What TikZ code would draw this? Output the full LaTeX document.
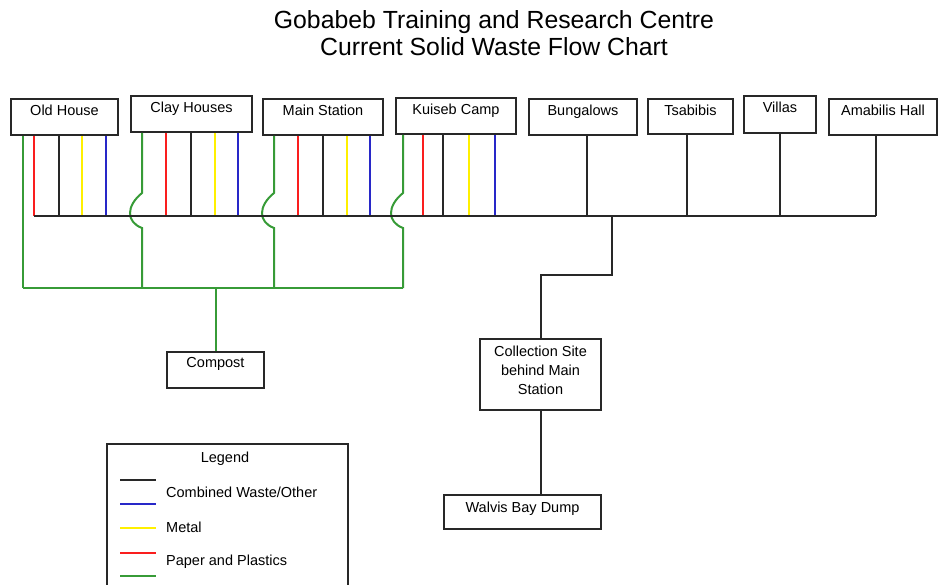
\documentclass[tikz,border=0pt]{standalone}
\usepackage{fontspec}
\setmainfont{Liberation Sans}
\definecolor{cgreen}{RGB}{55,155,55}
\definecolor{cred}{RGB}{250,30,30}
\definecolor{cyellow}{RGB}{255,240,0}
\definecolor{cblue}{RGB}{40,40,200}
\definecolor{cblack}{RGB}{40,40,40}
\begin{document}
\begin{tikzpicture}[x=1pt,y=-1pt,
  box/.style={draw=cblack, line width=2pt, inner sep=0pt, text height=16.5pt, text depth=19.5pt,
    anchor=north, font=\fontsize{14.5}{19}\selectfont},
  mbox/.style={draw=cblack, line width=2pt, inner sep=0pt, align=center,
    anchor=north, font=\fontsize{14.5}{19}\selectfont},
  wire/.style={line width=2pt},
  lbl/.style={inner sep=0pt, anchor=base west, font=\fontsize{14.5}{19}\selectfont},
  ttl/.style={inner sep=0pt, anchor=base, font=\fontsize{24.8}{27}\selectfont}]
\useasboundingbox (0,0) rectangle (939,585);

% title
\node[ttl] (t1) at (494,29) {Gobabeb Training and Research Centre};
\node[ttl] (t2) at (494,56) {Current Solid Waste Flow Chart};

% source boxes
\node[box, minimum width=107pt] (oh) at (64.5,98) {Old House};
\node[box, minimum width=121pt] (ch) at (191.5,95) {Clay Houses};
\node[box, minimum width=120pt] (ms) at (323,98) {Main Station};
\node[box, minimum width=120pt] (kc) at (456,97) {Kuiseb Camp};
\node[box, minimum width=108pt] (bu) at (583,98) {Bungalows};
\node[box, minimum width=85pt, text depth=18.5pt] (ts) at (690.5,98) {Tsabibis};
\node[box, minimum width=72pt, text depth=20.5pt] (vi) at (780,95) {Villas};
\node[box, minimum width=108pt] (ah) at (883,98) {Amabilis Hall};

% destination boxes
\node[box, minimum width=97pt, text height=15pt, text depth=21pt] (cp) at (215.5,351) {Compost};
\node[mbox, minimum width=121pt, minimum height=71pt] (cs) at (540.5,338)
  {Collection Site\\behind Main\\Station\rule[-9pt]{0pt}{0pt}};
\node[box, minimum width=157pt, text height=17pt, text depth=17pt] (wb) at (522.5,494) {Walvis Bay Dump};

% bus coordinates
\coordinate (bus) at (0,216);
\coordinate (gbus) at (0,288);

% Old House: straight lines
\draw[wire,cgreen] ([xshift=13pt]oh.south west) -- ([xshift=13pt]oh.south west |- gbus);
\foreach \dx/\c in {24/cred,49/cblack,72/cyellow,96/cblue}
  \draw[wire,\c] ([xshift=\dx pt]oh.south west) -- ([xshift=\dx pt]oh.south west |- bus);

% other camps: coloured lines and green lines hopping over the bus
\foreach \n/\g/\r/\k/\y/\b in {ch/12/36/61/85/108, ms/12/36/61/85/108, kc/8/28/48/74/100}{
  \foreach \dx/\c in {\r/cred,\k/cblack,\y/cyellow,\b/cblue}
    \draw[wire,\c] ([xshift=\dx pt]\n.south west) -- ([xshift=\dx pt]\n.south west |- bus);
  \draw[wire,cgreen] ([xshift=\g pt]\n.south west) -- ([xshift=\g pt,yshift=23pt]\n.south west |- bus)
    .. controls +(-16,13) and +(-16,-6) .. ([xshift=\g pt,yshift=-12pt]\n.south west |- bus)
    -- ([xshift=\g pt]\n.south west |- gbus);
}

% black bus
\draw[wire,cblack] ([xshift=24pt]oh.south west |- bus) -- ([xshift=48pt]ah.south west |- bus);
\draw[wire,cblack] ([xshift=59pt]bu.south west) -- ([xshift=59pt]bu.south west |- bus);
\draw[wire,cblack] ([xshift=40pt]ts.south west) -- ([xshift=40pt]ts.south west |- bus);
\draw[wire,cblack] (vi.south) -- (vi.south |- bus);
\draw[wire,cblack] ([xshift=48pt]ah.south west) -- ([xshift=48pt]ah.south west |- bus);

% green collector to compost
\draw[wire,cgreen] ([xshift=13pt]oh.south west |- gbus) -- ([xshift=8pt]kc.south west |- gbus);
\draw[wire,cgreen] (cp.north |- gbus) -- (cp.north);

% to collection site and dump
\coordinate (drop) at (612,216);
\draw[wire,cblack] (drop) -- ++(0,59) -| (cs.north);
\draw[wire,cblack] (cs.south) -- (cs.south |- wb.north);

% legend
\coordinate (lgtl) at (107,444);
\draw[line width=2pt,cblack] (107,590) -- (lgtl) -- (348,444) -- (348,590);
\node[inner sep=0pt, anchor=base, font=\fontsize{14.5}{19}\selectfont] (lgt) at (225,462) {Legend};
\coordinate (la) at (120,480);
\draw[wire,cblack] (la) -- ++(36,0);
\draw[wire,cblue] ([yshift=-24pt]la) -- ++(36,0);
\draw[wire,cyellow] ([yshift=-48pt]la) -- ++(36,0);
\draw[wire,cred] ([yshift=-73pt]la) -- ++(36,0);
\draw[wire,cgreen] ([yshift=-96pt]la) -- ++(36,0);
\node[lbl] (l1) at (166,497) {Combined Waste/Other};
\node[lbl] (l2) at (166,532) {Metal};
\node[lbl] (l3) at (166,565) {Paper and Plastics};
\end{tikzpicture}
\end{document}
